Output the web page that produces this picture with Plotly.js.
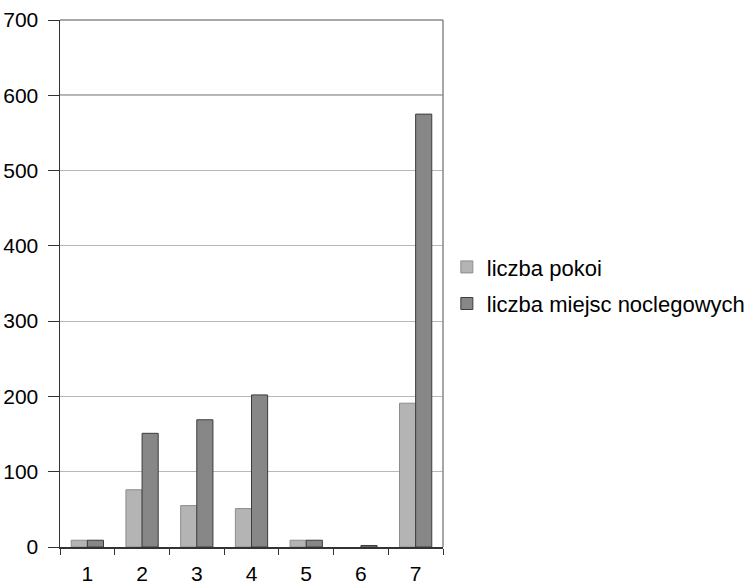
<!DOCTYPE html>
<html><head><meta charset="utf-8">
<script src="https://cdn.plot.ly/plotly-3.0.1.min.js"></script>
<style>body{margin:0;background:#fff}#c{width:753px;height:588px}</style>
</head><body><div id="c"></div>
<script>
const categories = ['1','2','3','4','5','6','7'];
const liczbaPokoi = [9, 76, 55, 51, 9, 0, 191];
const liczbaMiejsc = [9, 151, 169, 202, 9, 2, 575];
const seriesNames = ['liczba pokoi', 'liczba miejsc noclegowych'];

const traces = [
  {type:'bar', x:categories, y:liczbaPokoi, name:seriesNames[0], legendgroup:'a',
   marker:{color:'#b4b4b4', line:{color:'#8c8c8c', width:liczbaPokoi.map(v => v > 0 ? 1 : 0)}}},
  {type:'bar', x:categories, y:liczbaMiejsc, name:seriesNames[1], legendgroup:'b',
   marker:{color:'#878787', line:{color:'#3c3c3c', width:1}}}
];
const layout = {
  width:753, height:588,
  margin:{l:60, r:310, t:20, b:41, autoexpand:false},
  paper_bgcolor:'#fff', plot_bgcolor:'#fff',
  font:{family:'Liberation Sans, Arial, sans-serif', size:21, color:'#000'},
  barmode:'group', bargap:0.41, bargroupgap:0,
  showlegend:true,
  legend:{x:1.01, y:0.496, yanchor:'middle', xanchor:'left', font:{size:22}, traceorder:'grouped', tracegroupgap:5, itemwidth:30},
  xaxis:{type:'category', tickson:'boundaries', ticks:'outside', ticklen:6, tickcolor:'#333',
         tickfont:{size:21}, showline:true, linecolor:'#333', linewidth:1.5, showgrid:false,
         ticklabelstandoff:7, fixedrange:true, automargin:false},
  yaxis:{range:[0,700], dtick:100, ticks:'outside', ticklen:11, tickcolor:'#333',
         tickfont:{size:21}, showline:true, linecolor:'#333', linewidth:1.5, showgrid:true,
         gridcolor:'#b8b8b8', gridwidth:1, zeroline:false, ticklabelstandoff:5, automargin:false},
  shapes:[
    {type:'line', xref:'paper', yref:'paper', x0:0, x1:1, y0:1, y1:1, line:{color:'#8a8a8a', width:1.5}},
    {type:'line', xref:'paper', yref:'paper', x0:1, x1:1, y0:0, y1:1, line:{color:'#8a8a8a', width:1.5}},
    {type:'line', xref:'paper', yref:'y', x0:0, x1:1, y0:600, y1:600, line:{color:'#6a6a6a', width:1.5}, layer:'below'}
  ]
};
Plotly.newPlot('c', traces, layout, {displayModeBar:false, staticPlot:true});
</script></body></html>
